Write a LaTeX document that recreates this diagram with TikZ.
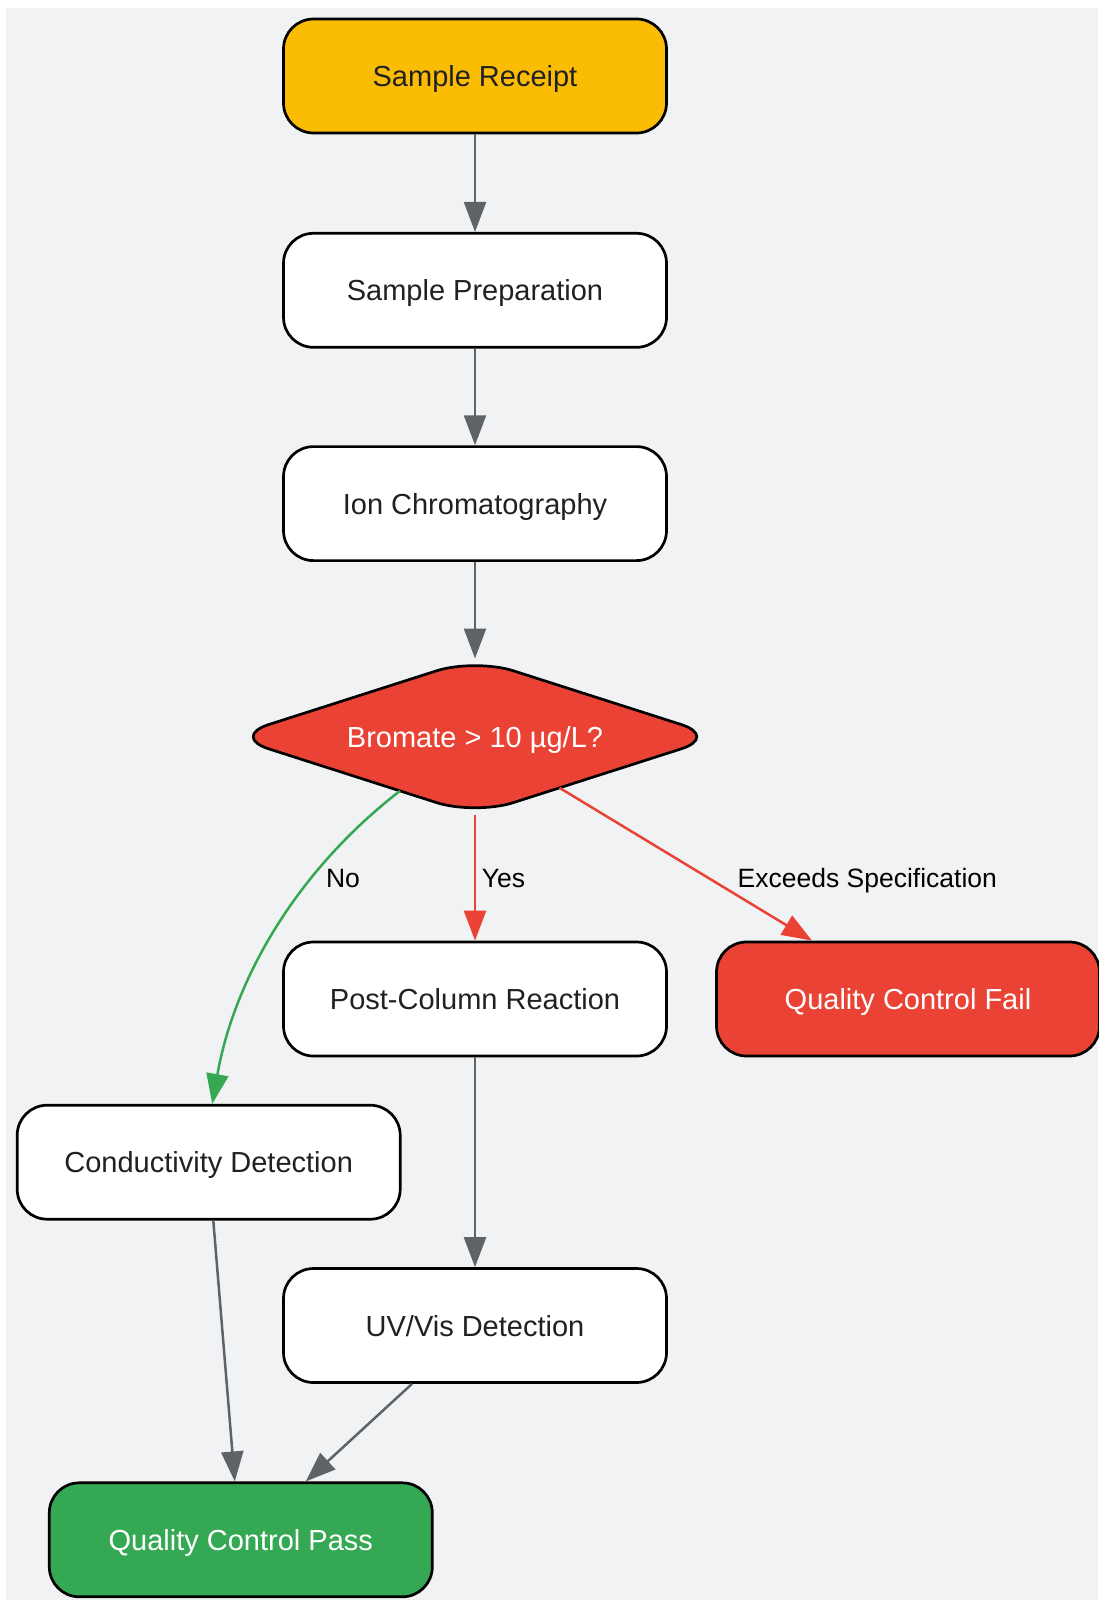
\documentclass[tikz,border=0pt]{standalone}
\usepackage{fontspec}
\setmainfont{Liberation Sans}
\usetikzlibrary{arrows.meta,shapes.geometric,calc}
\definecolor{bgc}{HTML}{F1F2F4}
\definecolor{yel}{HTML}{FBBC04}
\definecolor{redc}{HTML}{EA4335}
\definecolor{grn}{HTML}{34A853}
\definecolor{arr}{HTML}{5F6368}
\definecolor{txt}{HTML}{202124}
\pgfdeclarelayer{bg}
\pgfsetlayers{bg,main}
\begin{document}
\begin{tikzpicture}[x=1pt,y=-1pt,
  box/.style={draw=black, line width=2.7pt, rounded corners=30pt, minimum width=383pt, minimum height=114pt, inner sep=0pt, font=\fontsize{29}{34}\selectfont, text=txt, fill=white, text height=21pt, text depth=0pt},
  decision/.style={shape=diamond, aspect=3.128, minimum width=488pt, minimum height=156pt, inner sep=0pt, font=\fontsize{29}{34}\selectfont, text=white, text height=21pt, text depth=0pt},
  flow/.style={draw=arr, line width=2.5pt, -{Triangle[length=30pt,width=22pt]}},
  flowred/.style={flow, draw=redc, -{Triangle[length=30pt,width=22pt]}},
  flowgrn/.style={flow, draw=grn, -{Triangle[length=30pt,width=22pt]}},
  elabel/.style={font=\fontsize{26.5}{32}\selectfont, text=black, inner sep=0pt}
]
\useasboundingbox (0,0) rectangle (1098,1600);
\begin{pgfonlayer}{bg}
\fill[bgc] (6,8) rectangle (1098,1600);
\end{pgfonlayer}

\node[box, fill=yel] (receipt) at (475,76) {Sample Receipt};
\node[box] (prep) at (475,290.3) {Sample Preparation};
\node[box] (ion) at (475,503.6) {Ion Chromatography};
\node[decision] (dec) at (475,736.7) {Bromate > 10 µg/L?};
\node[box] (post) at (475,999) {Post-Column Reaction};
\node[box, fill=redc, text=white] (fail) at (908,999) {Quality Control Fail};
\node[box] (cond) at (208.7,1162.2) {Conductivity Detection};
\node[box] (uv) at (475,1325.5) {UV/Vis Detection};
\node[box, fill=grn, text=white] (pass) at (240.8,1539.8) {Quality Control Pass};

\begin{pgfonlayer}{bg}
\draw[fill=redc, line width=2.7pt, line join=round]
 ($(dec.north)!0.156!(dec.west)$) .. controls ($(dec.north)!0.07!(dec.west)$) and ($(dec.north)!0.07!(dec.east)$) .. ($(dec.north)!0.156!(dec.east)$)
 -- ($(dec.east)!0.156!(dec.north)$) .. controls ($(dec.east)!0.07!(dec.north)$) and ($(dec.east)!0.07!(dec.south)$) .. ($(dec.east)!0.156!(dec.south)$)
 -- ($(dec.south)!0.156!(dec.east)$) .. controls ($(dec.south)!0.07!(dec.east)$) and ($(dec.south)!0.07!(dec.west)$) .. ($(dec.south)!0.156!(dec.west)$)
 -- ($(dec.west)!0.156!(dec.south)$) .. controls ($(dec.west)!0.07!(dec.south)$) and ($(dec.west)!0.07!(dec.north)$) .. ($(dec.west)!0.156!(dec.north)$)
 -- cycle;
\end{pgfonlayer}

\coordinate (failin) at ($(fail.north)+(-96,0)$);
\coordinate (noout) at ($(dec.south)!0.307!(dec.west)$);
\coordinate (condin) at ($(cond.north)+(3.5,0)$);
\coordinate (cout) at ($(cond.south)+(4.6,0)$);
\coordinate (pin1) at ($(pass.north)+(-6,0)$);
\coordinate (uvout) at ($(uv.south)+(-63,0)$);
\coordinate (pin2) at ($(pass.north)+(65,0)$);

\draw[flow] (receipt) -- (prep);
\draw[flow] (prep) -- (ion);
\draw[flow] (ion) -- (dec);
\draw[flowred] (dec) -- (post);
\draw[flowred] (dec) -- (failin);
\draw[flowgrn] (noout) .. controls (300,868) and (235,975) .. (condin);
\draw[flow] (post) -- (uv);
\draw[flow] (cout) -- (pin1);
\draw[flow] (uvout) -- (pin2);

\node[elabel, anchor=base] (lno) at (343,887) {No};
\node[elabel, anchor=base west] (lyes) at (481.6,887) {Yes};
\node[elabel, anchor=base] (lexc) at (867.3,887) {Exceeds Specification};
\end{tikzpicture}
\end{document}
